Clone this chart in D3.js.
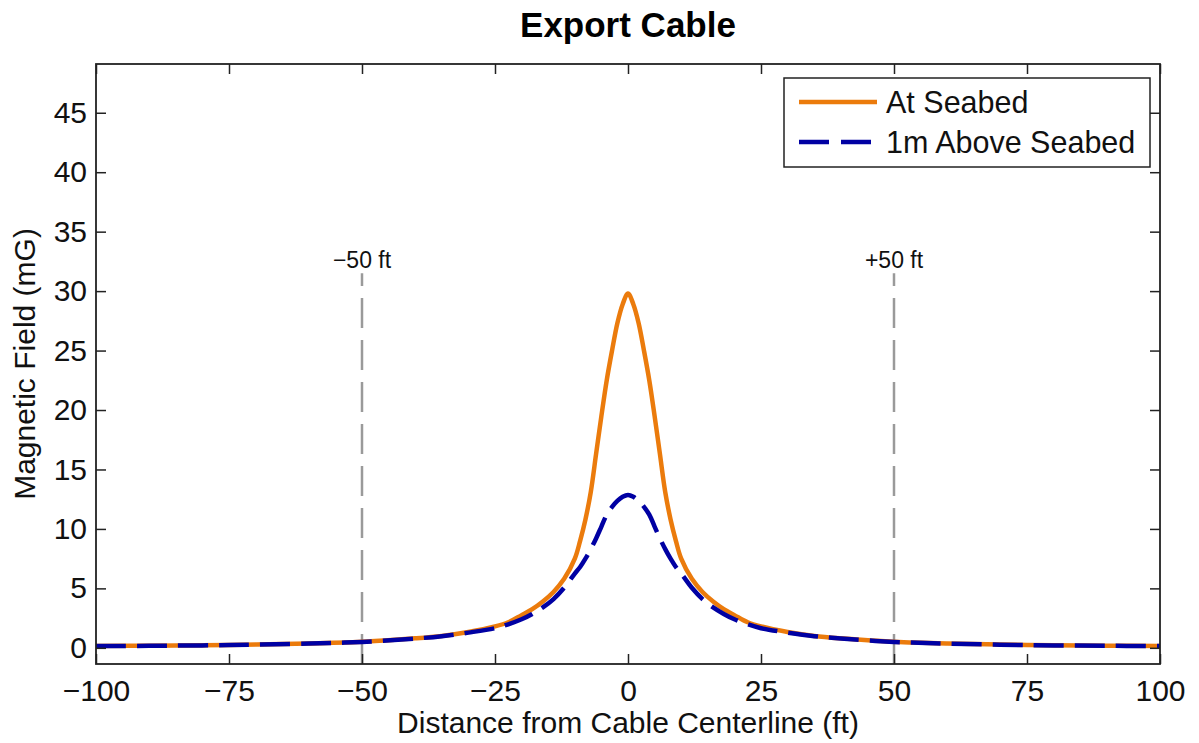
<!DOCTYPE html>
<html>
<head>
<meta charset="utf-8">
<script src="https://cdn.jsdelivr.net/npm/d3@7"></script>
<style>
  html, body { margin: 0; padding: 0; background: #fff; }
  svg { display: block; font-family: "Liberation Sans", Arial, Helvetica, sans-serif; }
</style>
</head>
<body>
<svg id="chart" width="1199" height="743"></svg>
<script>
// ---- data ----
const distance = [-100, -90, -75, -60, -50, -40, -35, -30, -25, -22.5, -20, -18, -16, -14, -12, -10, -9, -8, -7, -6, -5, -4, -3, -2, -1,
                  0, 1, 2, 3, 4, 5, 6, 7, 8, 9, 10, 12, 14, 16, 18, 20, 22.5, 25, 30, 35, 40, 50, 60, 75, 90, 100];
const atSeabed = [0.15, 0.18, 0.24, 0.37, 0.52, 0.8, 1.0, 1.33, 1.8, 2.15, 2.75, 3.25, 3.9, 4.7, 5.8, 7.5, 9.0, 10.8, 13.1, 16.3, 19.5, 22.5, 25.0, 27.3, 28.9,
                  29.8, 28.9, 27.3, 25.0, 22.5, 19.5, 16.3, 13.1, 10.8, 9.0, 7.5, 5.8, 4.7, 3.9, 3.25, 2.75, 2.15, 1.8, 1.33, 1.0, 0.8, 0.52, 0.37, 0.24, 0.18, 0.15];
const aboveSeabed = [0.15, 0.17, 0.23, 0.36, 0.5, 0.78, 0.98, 1.28, 1.65, 1.98, 2.4, 2.85, 3.4, 4.1, 5.05, 6.25, 6.8, 7.5, 8.3, 9.2, 10.2, 11.2, 11.85, 12.35, 12.7,
                  12.85, 12.7, 12.35, 11.85, 11.2, 10.2, 9.2, 8.3, 7.5, 6.8, 6.25, 5.05, 4.1, 3.4, 2.85, 2.4, 1.98, 1.65, 1.28, 0.98, 0.78, 0.5, 0.36, 0.23, 0.17, 0.15];
const xTicks = [-100, -75, -50, -25, 0, 25, 50, 75, 100];
const yTicks = [0, 5, 10, 15, 20, 25, 30, 35, 40, 45];
const markers = [{x: -50, label: "\u221250 ft"}, {x: 50, label: "+50 ft"}];
const seriesNames = ["At Seabed", "1m Above Seabed"];
const title = "Export Cable";
const xLabel = "Distance from Cable Centerline (ft)";
const yLabel = "Magnetic Field (mG)";

// ---- layout ----
const L = 96, R = 1160, T = 64, B = 664;
const orange = "#EB7B0C", blue = "#0000A3";
const svg = d3.select("#chart");

const x = d3.scaleLinear().domain([-100, 100]).range([L, R]);
const y = d3.scaleLinear().domain([-1.36, 49.1]).range([B, T]);

svg.append("defs").append("clipPath").attr("id", "clip")
  .append("rect").attr("x", L).attr("y", T).attr("width", R - L).attr("height", B - T);

// marker lines (drawn from bottom upward)
const markerTop = 31.5;
markers.forEach(m => {
  svg.append("line")
    .attr("x1", x(m.x)).attr("x2", x(m.x))
    .attr("y1", B).attr("y2", y(markerTop))
    .attr("stroke", "#9a9a9a").attr("stroke-width", 2.5)
    .attr("stroke-dasharray", "30,12");
  svg.append("text")
    .attr("x", x(m.x)).attr("y", y(markerTop) - 5)
    .attr("text-anchor", "middle").attr("font-size", 23).attr("fill", "#111")
    .text(m.label);
});

// curves
const rows1 = distance.map((d, i) => [d, atSeabed[i]]);
const rows2 = distance.map((d, i) => [d, aboveSeabed[i]]);
const line = d3.line().x(d => x(d[0])).y(d => y(d[1])).curve(d3.curveCatmullRom.alpha(0.5));
const g = svg.append("g").attr("clip-path", "url(#clip)");
g.append("path").datum(rows1).attr("d", line)
  .attr("fill", "none").attr("stroke", orange).attr("stroke-width", 4.5).attr("stroke-linejoin", "round");
g.append("path").datum(rows2).attr("d", line)
  .attr("fill", "none").attr("stroke", blue).attr("stroke-width", 4.5)
  .attr("stroke-dasharray", "30,11");

// axes box with inward ticks on all sides
const fmt = d3.format("");
const axB = svg.append("g").attr("transform", `translate(0,${B})`)
  .call(d3.axisBottom(x).tickValues(xTicks).tickSize(-10).tickPadding(14).tickFormat(fmt));
const axT = svg.append("g").attr("transform", `translate(0,${T})`)
  .call(d3.axisTop(x).tickValues(xTicks).tickSize(-10).tickFormat(""));
const axL = svg.append("g").attr("transform", `translate(${L},0)`)
  .call(d3.axisLeft(y).tickValues(yTicks).tickSize(-10).tickPadding(9).tickFormat(fmt));
const axR = svg.append("g").attr("transform", `translate(${R},0)`)
  .call(d3.axisRight(y).tickValues(yTicks).tickSize(-10).tickFormat(""));
[axB, axT, axL, axR].forEach(a => {
  a.select(".domain").remove();
  a.selectAll(".tick line").attr("stroke", "#222").attr("stroke-width", 1.5);
  a.selectAll("text").attr("font-size", 30).attr("fill", "#111")
    .attr("font-family", "'Liberation Sans', Arial, sans-serif");
});
axB.selectAll(".tick text").attr("dy", "0.71em").attr("y", 16);
svg.append("rect").attr("x", L).attr("y", T).attr("width", R - L).attr("height", B - T)
  .attr("fill", "none").attr("stroke", "#222").attr("stroke-width", 1.8);

// title and labels
svg.append("text").attr("x", (L + R) / 2).attr("y", 37)
  .attr("text-anchor", "middle").attr("font-size", 35).attr("font-weight", "bold").attr("fill", "#000")
  .text(title);
svg.append("text").attr("x", (L + R) / 2).attr("y", 733)
  .attr("text-anchor", "middle").attr("font-size", 30).attr("fill", "#111")
  .text(xLabel);
svg.append("text").attr("transform", `translate(35,${(T + B) / 2}) rotate(-90)`)
  .attr("text-anchor", "middle").attr("font-size", 30).attr("fill", "#111")
  .text(yLabel);

// legend
const lg = svg.append("g");
lg.append("rect").attr("x", 784).attr("y", 78).attr("width", 366).attr("height", 89)
  .attr("fill", "#fff").attr("stroke", "#222").attr("stroke-width", 1.5);
const legendRows = [{name: seriesNames[0], color: orange, dash: null, yy: 102},
                    {name: seriesNames[1], color: blue, dash: "30,12", yy: 142}];
legendRows.forEach(r => {
  lg.append("line").attr("x1", 799).attr("x2", 877).attr("y1", r.yy).attr("y2", r.yy)
    .attr("stroke", r.color).attr("stroke-width", 4.5)
    .attr("stroke-dasharray", r.dash);
  lg.append("text").attr("x", 886).attr("y", r.yy + 11)
    .attr("font-size", 30.5).attr("fill", "#111").text(r.name);
});
</script>
</body>
</html>
